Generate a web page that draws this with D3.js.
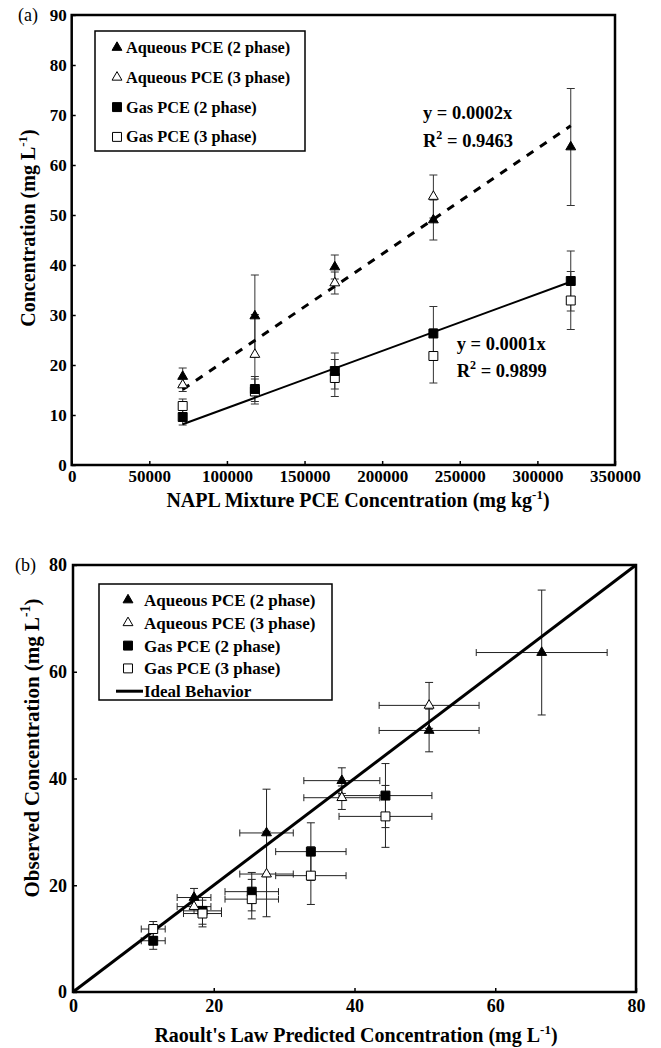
<!DOCTYPE html>
<html><head><meta charset="utf-8">
<script src="https://cdn.jsdelivr.net/npm/d3@7"></script>
<style>
html,body{margin:0;padding:0;background:#fff;}
text{font-family:"Liberation Serif","Times New Roman",serif;}
</style></head>
<body>
<svg id="chart" width="661" height="1048"></svg>
<script>
// ---------- data ----------
const naplConc = [71500, 118000, 169500, 233000, 321500];
const aq2 = [17.7, 29.8, 39.6, 49.0, 63.6];
const aq2Err = [1.7, 8.2, 2.4, 4.0, 11.7];
const aq3 = [16.0, 22.1, 36.4, 53.7];
const aq3Err = [1.3, 8.0, 2.2, 4.3];
const gas2 = [9.6, 15.2, 18.8, 26.3, 36.8];
const gas2Err = [1.6, 2.5, 3.6, 5.4, 6.0];
const gas3 = [11.8, 14.7, 17.4, 21.8, 32.9];
const gas3Err = [1.4, 2.5, 3.7, 5.4, 5.8];
const aqPred = [17.2, 27.5, 38.2, 50.6, 66.6];
const aqPredErr = [2.4, 3.8, 5.4, 7.1, 9.3];
const gasPred = [11.4, 18.4, 25.4, 33.8, 44.4];
const gasPredErr = [1.7, 2.7, 3.8, 5.0, 6.6];
const aqSlope = 0.000211, gasSlope = 0.000114;
const xTicksA = [0, 50000, 100000, 150000, 200000, 250000, 300000, 350000];
const yTicksA = [0, 10, 20, 30, 40, 50, 60, 70, 80, 90];
const ticksB = [0, 20, 40, 60, 80];
const legendA = ["Aqueous PCE (2 phase)", "Aqueous PCE (3 phase)", "Gas PCE (2 phase)", "Gas PCE (3 phase)"];
const legendB = ["Aqueous PCE (2 phase)", "Aqueous PCE (3 phase)", "Gas PCE (2 phase)", "Gas PCE (3 phase)", "Ideal Behavior"];

const svg = d3.select("#chart");
svg.append("rect").attr("width", 661).attr("height", 1048).attr("fill", "#fff");

const triPath = d3.symbol(d3.symbolTriangle, 42)();
const sqPath = d3.symbol(d3.symbolSquare, 80)();
const markerStyles = [
  {path: triPath, fill: "#000"},
  {path: triPath, fill: "#fff"},
  {path: sqPath, fill: "#000"},
  {path: sqPath, fill: "#fff"}
];

function supText(g, x, y, parts, size, anchor, rotate) {
  const t = g.append("text").attr("font-size", size).attr("font-weight", "bold")
    .attr("text-anchor", anchor || "start");
  if (rotate) t.attr("transform", `translate(${x},${y}) rotate(-90)`);
  else t.attr("x", x).attr("y", y);
  const s = size * 0.42;
  parts.forEach(p => {
    if (p[1] === "sup") t.append("tspan").attr("dy", -s).attr("font-size", size * 0.65).text(p[0]);
    else if (p[1] === "after") t.append("tspan").attr("dy", s).text(p[0]);
    else t.append("tspan").text(p[0]);
  });
  return t;
}

function drawMarkers(g, xs, ys, sx, sy, style) {
  g.selectAll(null).data(ys).enter().append("path")
    .attr("d", style.path)
    .attr("transform", (d, i) => `translate(${sx(xs[i])},${sy(d)})`)
    .attr("fill", style.fill).attr("stroke", "#000").attr("stroke-width", 1);
}
function vErr(g, xs, ys, es, sx, sy, color) {
  ys.forEach((d, i) => {
    const x = sx(xs[i]), y1 = sy(d - es[i]), y2 = sy(d + es[i]);
    g.append("line").attr("x1", x).attr("x2", x).attr("y1", y1).attr("y2", y2).attr("stroke", color).attr("stroke-width", 1);
    [y1, y2].forEach(y => g.append("line").attr("x1", x - 4).attr("x2", x + 4).attr("y1", y).attr("y2", y).attr("stroke", color).attr("stroke-width", 1));
  });
}
function hErr(g, xs, ys, es, sx, sy, color) {
  ys.forEach((d, i) => {
    const y = sy(d), x1 = sx(xs[i] - es[i]), x2 = sx(xs[i] + es[i]);
    g.append("line").attr("x1", x1).attr("x2", x2).attr("y1", y).attr("y2", y).attr("stroke", color).attr("stroke-width", 1);
    [x1, x2].forEach(x => g.append("line").attr("x1", x).attr("x2", x).attr("y1", y - 3.5).attr("y2", y + 3.5).attr("stroke", color).attr("stroke-width", 1));
  });
}
function styleAxis(a, size) {
  a.attr("font-family", null).attr("font-size", null);
  a.select(".domain").remove();
  a.selectAll(".tick line").attr("stroke", "#000").attr("stroke-width", 1.5);
  a.selectAll(".tick text").attr("font-size", size).attr("font-weight", "bold")
    .attr("font-family", '"Liberation Serif","Times New Roman",serif').attr("fill", "#000");
}

// ---------- panel (a) ----------
const xA = d3.scaleLinear([0, 350000], [71.7, 615]);
const yA = d3.scaleLinear([0, 90], [465, 15]);
const gA = svg.append("g");
const axA = gA.append("g").attr("transform", "translate(0,465)")
  .call(d3.axisBottom(xA).tickValues(xTicksA).tickSize(-4).tickPadding(5).tickFormat(d3.format("d")));
styleAxis(axA, 17);
const ayA = gA.append("g").attr("transform", "translate(71.7,0)")
  .call(d3.axisLeft(yA).tickValues(yTicksA).tickSize(-4).tickPadding(5).tickFormat(d3.format("d")));
styleAxis(ayA, 17);
gA.append("rect").attr("x", xA(0)).attr("y", yA(90)).attr("width", xA(350000) - xA(0)).attr("height", yA(0) - yA(90))
  .attr("fill", "none").attr("stroke", "#000").attr("stroke-width", 2.5);

vErr(gA, naplConc, aq2, aq2Err, xA, yA, "#333");
vErr(gA, naplConc, aq3, aq3Err, xA, yA, "#333");
vErr(gA, naplConc, gas2, gas2Err, xA, yA, "#333");
vErr(gA, naplConc, gas3, gas3Err, xA, yA, "#333");

const x0 = naplConc[0], x1 = naplConc[naplConc.length - 1];
gA.append("line").attr("x1", xA(x0)).attr("y1", yA(aqSlope * x0)).attr("x2", xA(x1)).attr("y2", yA(aqSlope * x1))
  .attr("stroke", "#000").attr("stroke-width", 3).attr("stroke-dasharray", "8,8");
gA.append("line").attr("x1", xA(x0)).attr("y1", yA(gasSlope * x0)).attr("x2", xA(x1)).attr("y2", yA(gasSlope * x1))
  .attr("stroke", "#000").attr("stroke-width", 2);

drawMarkers(gA, naplConc, gas3, xA, yA, markerStyles[3]);
drawMarkers(gA, naplConc, gas2, xA, yA, markerStyles[2]);
drawMarkers(gA, naplConc, aq3, xA, yA, markerStyles[1]);
drawMarkers(gA, naplConc, aq2, xA, yA, markerStyles[0]);

// equations
supText(gA, xA(226300), yA(69.2), [["y = 0.0002x", ""]], 18.5);
supText(gA, xA(226300), yA(63.6), [["R", ""], ["2", "sup"], [" = 0.9463", "after"]], 18.5);
supText(gA, xA(248000), yA(23.0), [["y = 0.0001x", ""]], 18.5);
supText(gA, xA(248000), yA(17.6), [["R", ""], ["2", "sup"], [" = 0.9899", "after"]], 18.5);

// legend (a)
gA.append("rect").attr("x", 95).attr("y", 31).attr("width", 210).attr("height", 120)
  .attr("fill", "#fff").attr("stroke", "#000").attr("stroke-width", 1.5);
legendA.forEach((name, i) => {
  const cy = 47.5 + i * 29.8;
  gA.append("path").attr("d", markerStyles[i].path).attr("transform", `translate(117,${cy})`)
    .attr("fill", markerStyles[i].fill).attr("stroke", "#000").attr("stroke-width", 1);
  gA.append("text").attr("x", 126).attr("y", cy + 5.5).attr("font-size", 16.3).attr("font-weight", "bold").text(name);
});

// titles (a)
supText(gA, 358, 507, [["NAPL Mixture PCE Concentration (mg kg", ""], ["-1", "sup"], [")", "after"]], 20, "middle");
supText(gA, 35, 228, [["Concentration (mg L", ""], ["-1", "sup"], [")", "after"]], 20, "middle", true);
gA.append("text").attr("x", 18).attr("y", 21).attr("font-size", 18).text("(a)");

// ---------- panel (b) ----------
const xB = d3.scaleLinear([0, 80], [73, 636]);
const yB = d3.scaleLinear([0, 80], [992, 565]);
const gB = svg.append("g");
const axB = gB.append("g").attr("transform", "translate(0,992)")
  .call(d3.axisBottom(xB).tickValues(ticksB).tickSize(-4).tickPadding(7).tickFormat(d3.format("d")));
styleAxis(axB, 18);
const ayB = gB.append("g").attr("transform", "translate(73,0)")
  .call(d3.axisLeft(yB).tickValues(ticksB).tickSize(-4).tickPadding(6).tickFormat(d3.format("d")));
styleAxis(ayB, 18);
gB.append("rect").attr("x", xB(0)).attr("y", yB(80)).attr("width", xB(80) - xB(0)).attr("height", yB(0) - yB(80))
  .attr("fill", "none").attr("stroke", "#000").attr("stroke-width", 2.5);

const aqPred3 = aqPred.slice(0, aq3.length), aqPredErr3 = aqPredErr.slice(0, aq3.length);
vErr(gB, aqPred, aq2, aq2Err, xB, yB, "#222");
vErr(gB, aqPred3, aq3, aq3Err, xB, yB, "#222");
vErr(gB, gasPred, gas2, gas2Err, xB, yB, "#222");
vErr(gB, gasPred, gas3, gas3Err, xB, yB, "#222");
hErr(gB, aqPred, aq2, aqPredErr, xB, yB, "#222");
hErr(gB, aqPred3, aq3, aqPredErr3, xB, yB, "#222");
hErr(gB, gasPred, gas2, gasPredErr, xB, yB, "#222");
hErr(gB, gasPred, gas3, gasPredErr, xB, yB, "#222");

gB.append("line").attr("x1", xB(0)).attr("y1", yB(0)).attr("x2", xB(80)).attr("y2", yB(80))
  .attr("stroke", "#000").attr("stroke-width", 3);

drawMarkers(gB, gasPred, gas2, xB, yB, markerStyles[2]);
drawMarkers(gB, gasPred, gas3, xB, yB, markerStyles[3]);
drawMarkers(gB, aqPred3, aq3, xB, yB, markerStyles[1]);
drawMarkers(gB, aqPred, aq2, xB, yB, markerStyles[0]);

// legend (b)
gB.append("rect").attr("x", 99).attr("y", 584).attr("width", 233).attr("height", 116)
  .attr("fill", "#fff").attr("stroke", "#000").attr("stroke-width", 1.5);
legendB.forEach((name, i) => {
  const cy = 600 + i * 22.8;
  if (i < 4) {
    gB.append("path").attr("d", markerStyles[i].path).attr("transform", `translate(128,${cy})`)
      .attr("fill", markerStyles[i].fill).attr("stroke", "#000").attr("stroke-width", 1);
  } else {
    gB.append("line").attr("x1", 116).attr("x2", 143).attr("y1", cy).attr("y2", cy).attr("stroke", "#000").attr("stroke-width", 3);
  }
  gB.append("text").attr("x", 144).attr("y", cy + 6).attr("font-size", 17).attr("font-weight", "bold").text(name);
});

supText(gB, 356, 1042, [["Raoult's Law Predicted Concentration (mg L", ""], ["-1", "sup"], [")", "after"]], 20, "middle");
supText(gB, 39, 748, [["Observed Concentration (mg L", ""], ["-1", "sup"], [")", "after"]], 21, "middle", true);
gB.append("text").attr("x", 15).attr("y", 571).attr("font-size", 18).text("(b)");
</script>
</body></html>
